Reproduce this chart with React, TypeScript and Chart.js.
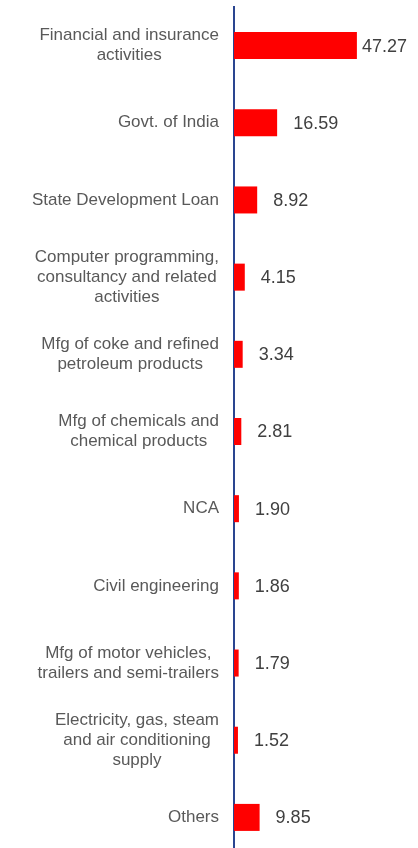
import React, { useEffect, useRef } from "react";
import { Chart, registerables } from "chart.js";

Chart.register(...registerables);

const categories: string[][] = [
  ["Financial and insurance", "activities"],
  ["Govt. of India"],
  ["State Development Loan"],
  ["Computer programming,", "consultancy and related", "activities"],
  ["Mfg of coke and refined", "petroleum products"],
  ["Mfg of chemicals and", "chemical products"],
  ["NCA"],
  ["Civil engineering"],
  ["Mfg of motor vehicles,", "trailers and semi-trailers"],
  ["Electricity, gas, steam", "and air conditioning", "supply"],
  ["Others"],
];

const values: number[] = [47.27, 16.59, 8.92, 4.15, 3.34, 2.81, 1.9, 1.86, 1.79, 1.52, 9.85];

const W = 418;
const H = 860;
const FONT = "'Liberation Sans', Arial, sans-serif";

const labelPlugin = {
  id: "customLabels",
  afterDraw(chart: any) {
    const ctx = chart.ctx;
    const yScale = chart.scales.y;
    const meta = chart.getDatasetMeta(0);
    ctx.save();
    // category labels
    ctx.font = `17px ${FONT}`;
    ctx.fillStyle = "#595959";
    ctx.textAlign = "center";
    ctx.textBaseline = "middle";
    const lh = 19.8;
    const rightX = 219;
    categories.forEach((lines, i) => {
      const y = yScale.getPixelForValue(i);
      const bw = Math.max(...lines.map((l) => ctx.measureText(l).width));
      const cx = rightX - bw / 2;
      lines.forEach((l, k) => {
        ctx.fillText(l, cx, y + (k - (lines.length - 1) / 2) * lh);
      });
    });
    // value labels
    ctx.font = `18px ${FONT}`;
    ctx.fillStyle = "#404040";
    ctx.textAlign = "left";
    meta.data.forEach((bar: any, i: number) => {
      const txt = values[i].toFixed(2);
      const w = ctx.measureText(txt).width;
      let x = bar.x + 16;
      if (x + w > W - 11) x = W - 11 - w;
      ctx.fillText(txt, x, bar.y + 1);
    });
    ctx.restore();
  },
};

export default function App() {
  const ref = useRef<HTMLCanvasElement>(null);
  useEffect(() => {
    if (!ref.current) return;
    const chart = new Chart(ref.current, {
      type: "bar",
      data: {
        labels: categories.map((c) => c.join(" ")),
        datasets: [
          {
            data: values,
            backgroundColor: "#FF0000",
            borderWidth: 0,
            barPercentage: 0.35,
            categoryPercentage: 1,
          },
        ],
      },
      options: {
        indexAxis: "y",
        responsive: false,
        devicePixelRatio: 1,
        animation: false,
        layout: { padding: { top: 7, bottom: 4, right: 2, left: 0 } },
        plugins: { legend: { display: false }, tooltip: { enabled: false } },
        scales: {
          x: { display: false, min: 0, max: 70 },
          y: {
            grid: { display: false },
            border: { display: true, color: "#2A4590", width: 2 },
            ticks: { display: false },
            afterFit(scale: any) {
              scale.width = 234;
            },
          },
        },
      },
      plugins: [labelPlugin],
    });
    return () => chart.destroy();
  }, []);
  return (
    <div style={{ position: "absolute", left: 0, top: 0, width: W, height: H }}>
      <canvas ref={ref} width={W} height={H} style={{ display: "block", width: W, height: H }} />
    </div>
  );
}
